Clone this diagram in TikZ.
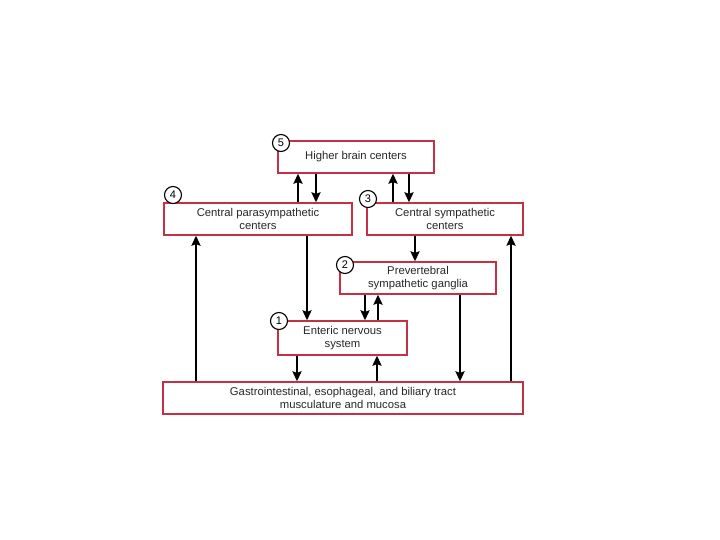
\documentclass[tikz,border=0pt]{standalone}
\usepackage{fontspec}
\setmainfont{Liberation Sans}
\usetikzlibrary{arrows.meta}
\definecolor{boxred}{RGB}{196,48,68}
\definecolor{txt}{RGB}{40,40,40}
\begin{document}
\begin{tikzpicture}[x=1pt,y=-1pt,
  box/.style={draw=boxred,line width=1.3pt,fill=white,inner sep=0pt,text=txt,font=\fontsize{11.3}{12.5}\selectfont,align=center},
  num/.style={circle,draw=black,line width=1.1pt,fill=white,inner sep=0pt,minimum size=17pt,font=\fontsize{11}{12}\selectfont},
  arr/.style={line width=2.2pt,-{Stealth[length=10pt,width=9pt,inset=1.5pt]}}]
\useasboundingbox (0,0) rectangle (720,540);
\node[box,minimum width=156pt,minimum height=32pt] (b5) at (356,157) {Higher brain centers};
\node[box,minimum width=188pt,minimum height=32pt] (b4) at (258,219) {Central parasympathetic\\centers};
\node[box,minimum width=156pt,minimum height=32pt] (b3) at (445,219) {Central sympathetic\\centers};
\node[box,minimum width=156pt,minimum height=32pt] (b2) at (418,278) {Prevertebral\\sympathetic ganglia};
\node[box,minimum width=129pt,minimum height=34pt] (b1) at (342.5,338) {Enteric nervous\\system};
\node[box,minimum width=360pt,minimum height=32pt] (gi) at (343,398) {Gastrointestinal, esophageal, and biliary tract\\musculature and mucosa};
\node[num] (n5) at (281,143) {5};
\node[num] (n4) at (173,195) {4};
\node[num] (n3) at (368,199) {3};
\node[num] (n2) at (345,265) {2};
\node[num] (n1) at (279,321) {1};
% 4 <-> 5
\draw[arr] (b4.north -| 298,0) -- (b5.south -| 298,0);
\draw[arr] (b5.south -| 316,0) -- (b4.north -| 316,0);
% 3 <-> 5
\draw[arr] (b3.north -| 393,0) -- (b5.south -| 393,0);
\draw[arr] (b5.south -| 409,0) -- (b3.north -| 409,0);
% 4 -> 1
\draw[arr] (b4.south -| 307,0) -- (b1.north -| 307,0);
% 3 -> 2
\draw[arr] (b3.south -| 415,0) -- (b2.north -| 415,0);
% 2 <-> 1
\draw[arr] (b2.south -| 365,0) -- (b1.north -| 365,0);
\draw[arr] (b1.north -| 378,0) -- (b2.south -| 378,0);
% 1 <-> GI
\draw[arr] (b1.south -| 297,0) -- (gi.north -| 297,0);
\draw[arr] (gi.north -| 377,0) -- (b1.south -| 377,0);
% 2 -> GI
\draw[arr] (b2.south -| 460,0) -- (gi.north -| 460,0);
% GI -> 4, GI -> 3
\draw[arr] (gi.north -| 196,0) -- (b4.south -| 196,0);
\draw[arr] (gi.north -| 511,0) -- (b3.south -| 511,0);
\end{tikzpicture}
\end{document}
